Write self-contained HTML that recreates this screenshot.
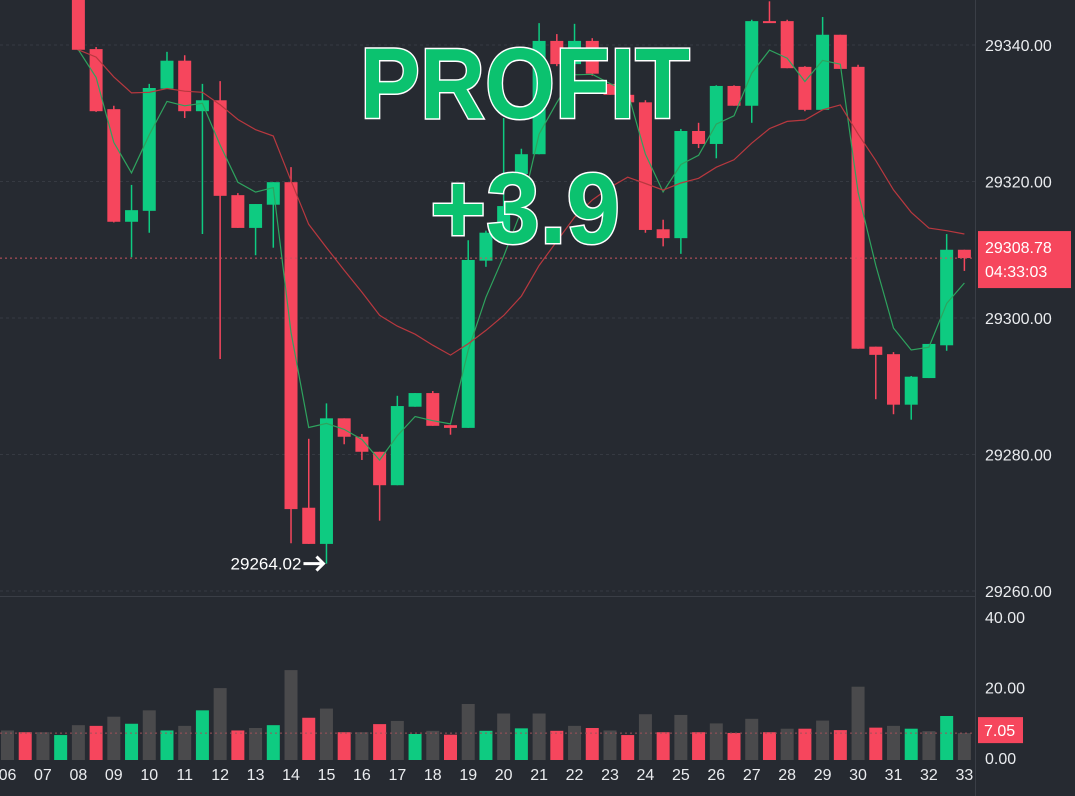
<!DOCTYPE html>
<html><head><meta charset="utf-8"><style>
html,body{margin:0;padding:0;background:#262a31;}
svg{display:block;font-family:"Liberation Sans",sans-serif;}
</style></head><body>
<svg id="chart" width="1075" height="796" viewBox="0 0 1075 796" xmlns="http://www.w3.org/2000/svg">
<rect x="0" y="0" width="1075" height="796" fill="#262a31"/>
<g id="grid"></g>
<g id="vol"></g>
<g id="candles"></g>
<g id="lines"></g>
<g id="axes"></g>
<g font-weight="bold" fill="#0bc26f" stroke="#ffffff" stroke-width="3" paint-order="stroke">
<text x="360" y="118" font-size="100" textLength="330" lengthAdjust="spacingAndGlyphs">PROFIT</text>
<text x="430" y="243" font-size="100" textLength="190" lengthAdjust="spacingAndGlyphs">+3.9</text>
</g>
</svg>
<script>
const idx=[4,5,6,7,8,9,10,11,12,13,14,15,16,17,18,19,20,21,22,23,24,25,26,27,28,29,30,31,32,33,34,35,36,37,38,39,40,41,42,43,44,45,46,47,48,49,50,51,52,53,54];
const opens=[29347.9,29339.4,29330.6,29314.1,29315.7,29333.6,29337.7,29330.3,29331.9,29318.0,29313.2,29316.6,29319.9,29272.2,29266.9,29285.3,29282.6,29280.4,29275.5,29287.0,29289.0,29284.3,29283.9,29308.4,29312.5,29321.1,29324.0,29340.6,29337.2,29340.6,29334.3,29332.7,29331.6,29313.0,29311.7,29327.4,29325.5,29334.0,29331.1,29343.5,29343.5,29336.8,29330.5,29341.5,29336.8,29295.8,29294.7,29287.3,29291.2,29296.0,29310.0];
const highs=[29347.9,29339.7,29331.1,29319.5,29334.3,29339.0,29338.5,29334.3,29334.7,29318.3,29316.7,29319.9,29322.1,29282.3,29287.5,29285.3,29283.0,29280.4,29288.6,29289.0,29289.3,29284.3,29311.4,29312.8,29329.3,29324.8,29343.2,29341.6,29343.1,29341.0,29334.3,29332.7,29331.9,29314.4,29327.7,29328.6,29334.1,29334.1,29343.7,29346.4,29343.7,29336.9,29344.1,29341.5,29337.1,29295.8,29295.0,29291.5,29296.2,29312.3,29310.0];
const lows=[29339.2,29330.2,29314.0,29308.9,29312.5,29333.6,29329.3,29312.3,29294.0,29313.2,29309.2,29310.3,29267.0,29266.9,29264.02,29281.5,29279.2,29270.3,29275.5,29287.0,29284.2,29282.9,29283.9,29307.5,29312.3,29320.8,29324.0,29336.9,29336.9,29335.5,29332.7,29331.6,29312.5,29310.5,29309.4,29324.9,29323.4,29331.1,29328.6,29343.4,29336.6,29330.3,29330.5,29336.5,29295.5,29288.1,29285.9,29285.1,29291.2,29295.2,29306.9];
const closes=[29339.3,29330.3,29314.1,29315.8,29333.7,29337.7,29330.3,29331.9,29317.9,29313.2,29316.7,29319.9,29272.0,29266.9,29285.3,29282.6,29280.4,29275.5,29287.1,29289.0,29284.2,29283.9,29308.5,29312.5,29316.4,29324.0,29340.6,29337.2,29340.6,29335.8,29332.7,29331.6,29312.9,29311.7,29327.4,29325.5,29334.0,29331.1,29343.5,29343.4,29336.6,29330.5,29341.5,29336.5,29295.5,29294.6,29287.3,29291.4,29296.2,29310.0,29308.78];
const volumes=[7.8,7.3,7.3,6.5,9.3,9.1,11.7,9.7,13.5,7.8,9.1,13.5,19.8,7.8,8.5,9.3,24.9,11.4,14.0,7.3,7.3,9.6,10.5,6.8,7.7,6.6,15.3,7.7,12.6,8.4,12.6,7.7,9.1,8.5,7.8,6.5,12.4,7.3,12.2,7.3,9.8,7.1,11.1,7.3,8.3,8.3,10.6,7.9,20.2,8.6,9.1,8.3,7.6,11.9,7.05];
const volColors="nrngnrngngngn"+"rngnrnrnrngnrngngn"+"rnrnrnrnrnrnrnrnrnrngngn";
const xLabels=["06","07","08","09","10","11","12","13","14","15","16","17","18","19","20","21","22","23","24","25","26","27","28","29","30","31","32","33"];
const priceTicks=[29340,29320,29300,29280,29260];
const volTicks=[40,20,0];
const lastPrice=29308.78, lastVol=7.05, lowPrice=29264.02, lowIdx=18;

const NS="http://www.w3.org/2000/svg";
const RED="#f6465d",GREEN="#0ecb81",GRAY="#4a4a4c";
const xOf=i=>7.5+i*17.72;
const yP=p=>45+(29340-p)*6.825;
const yV=v=>758-v*3.53;
function mk(tag,attrs,parent,text){const e=document.createElementNS(NS,tag);for(const k in attrs)e.setAttribute(k,attrs[k]);if(text!==undefined)e.textContent=text;parent.appendChild(e);return e;}
const grid=document.getElementById('grid'),axes=document.getElementById('axes');
priceTicks.forEach(t=>{
  const l=mk('line',{x1:0,x2:975,y1:yP(t),y2:yP(t),stroke:'#363a42','stroke-dasharray':'3,3'},grid);
  
  
  const tx=mk('text',{x:985,y:yP(t)+6,fill:'#eaecef','font-size':16},axes,t.toFixed(2));
  
  
});
volTicks.forEach(t=>{
  const tx=mk('text',{x:985,y:yV(t)+6,fill:'#eaecef','font-size':16},axes,t.toFixed(2));
  
  
});
xLabels.forEach((s,k)=>{
  const tx=mk('text',{x:xOf(k*2),y:780,fill:'#eaecef','font-size':16,'text-anchor':'middle'},axes,s);
  
  
});
const sep1=mk('line',{x1:975.5,x2:975.5,y1:0,y2:796,stroke:'#3a3e46'},grid);


const sep2=mk('line',{x1:0,x2:975,y1:596.5,y2:596.5,stroke:'#3a3e46'},grid);


const vg=document.getElementById('vol');
volumes.forEach((v,i)=>{
  const c=volColors[i]==='r'?RED:volColors[i]==='g'?GREEN:GRAY;
  const r=mk('rect',{x:xOf(i)-6.5,y:yV(v),width:13,height:yV(0)-yV(v)+2,fill:c},vg);
  
  
});
const cg=document.getElementById('candles');
idx.forEach((i,k)=>{
  const o=opens[k],c=closes[k],col=c>=o?GREEN:RED,x=xOf(i);
  const w=mk('line',{x1:x,x2:x,y1:yP(highs[k]),y2:yP(lows[k]),stroke:col,'stroke-width':1.5},cg);
  
  
  const top=yP(Math.max(o,c)),bot=yP(Math.min(o,c));
  const b=mk('rect',{x:x-6.5,y:top,width:13,height:Math.max(2,bot-top),fill:col},cg);
  
  
});
function ema(a,al){let e=a[0];return a.map(v=>(e=e+al*(v-e)));}
const lg=document.getElementById('lines');
[[0.45,'#2ea35e','ma-short-line'],[0.12,'#b8383f','ma-long-line']].forEach(([al,col,nm])=>{
  const m=ema(closes,al);
  const d=m.map((v,k)=>(k?'L':'M')+xOf(idx[k]).toFixed(1)+','+yP(v).toFixed(1)).join(' ');
  const p=mk('path',{d:d,fill:'none',stroke:col,'stroke-width':1.2},lg);
  
  
});
const pl=mk('line',{x1:0,x2:975,y1:yP(lastPrice),y2:yP(lastPrice),stroke:'#c9545f','stroke-dasharray':'2,3','stroke-width':1},axes);


const pb=mk('rect',{x:978,y:yP(lastPrice)-27,width:93,height:57,fill:RED},axes);


const pt1=mk('text',{x:985,y:yP(lastPrice)-5,fill:'#fff','font-size':16},axes,lastPrice.toFixed(2));


const pt2=mk('text',{x:985,y:yP(lastPrice)+19,fill:'#fff','font-size':16},axes,'04:33:03');


const vl=mk('line',{x1:0,x2:975,y1:yV(lastVol),y2:yV(lastVol),stroke:'#a0525a','stroke-dasharray':'2,3'},axes);


const vb=mk('rect',{x:978,y:yV(lastVol)-16,width:45,height:26,fill:RED},axes);


const vt=mk('text',{x:984,y:yV(lastVol)+3,fill:'#fff','font-size':16},axes,lastVol.toFixed(2));


const lt=mk('text',{x:xOf(lowIdx)-25,y:yP(lowPrice)+6,fill:'#fff','font-size':17,'text-anchor':'end'},axes,lowPrice.toFixed(2));


const ar=mk('path',{d:'M'+(xOf(lowIdx)-23)+','+yP(lowPrice)+' h20 m-7,-7 l7,7 l-7,7',stroke:'#fff','stroke-width':3,fill:'none'},axes);


</script>
</body></html>
